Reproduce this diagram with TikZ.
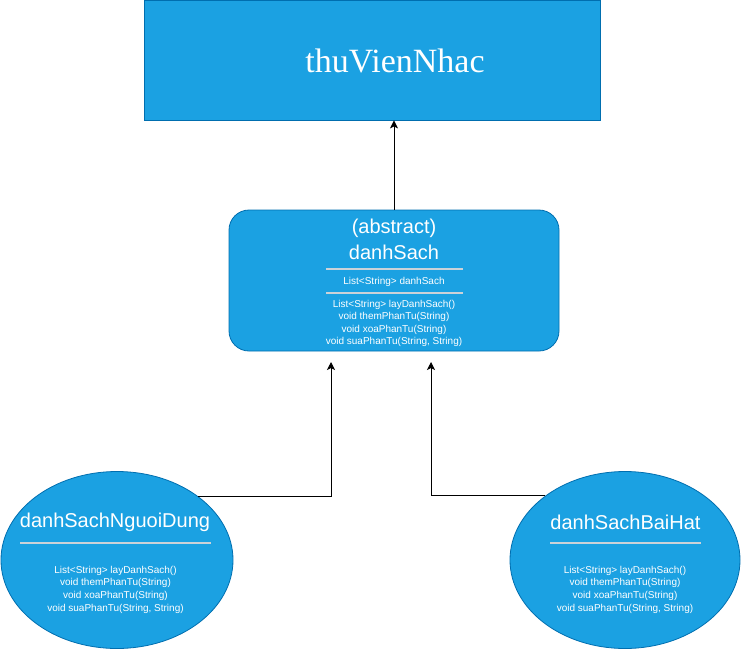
\documentclass[tikz,border=0pt]{standalone}
\usepackage{fontspec}
\setmainfont{Liberation Sans}
\newfontfamily\seriffont{Liberation Serif}
\usetikzlibrary{shapes.geometric,arrows.meta}
\definecolor{boxfill}{RGB}{27,161,226}
\definecolor{boxdraw}{RGB}{0,110,175}
\definecolor{sepgray}{RGB}{204,210,216}
\tikzset{
  bluebox/.style={draw=boxdraw,fill=boxfill,line width=0.8pt,inner sep=0pt},
  txt/.style={text=white,inner sep=0pt,align=center},
  small/.style={txt,font=\fontsize{10}{12.3}\selectfont},
  title/.style={txt,font=\fontsize{20}{26}\selectfont},
  sep/.style={draw=sepgray,line width=1.8pt},
  arr/.style={draw=black,line width=1pt,-{Stealth[length=8pt,width=8pt,inset=2pt]}}
}
\begin{document}
\begin{tikzpicture}[x=1pt,y=-1pt]
\useasboundingbox (0,0) rectangle (741,651);
% top box
\node[bluebox,rectangle,minimum width=456pt,minimum height=120pt] (top) at (372,60) {};
\node[txt,font=\seriffont\fontsize{34}{40}\selectfont] (toptxt) at (395,61) {thuVienNhac};
% middle box
\node[bluebox,rectangle,rounded corners=20pt,minimum width=330pt,minimum height=141pt] (mid) at (394,280.5) {};
\node[title] (midtitle) at (394,239) {(abstract)\\danhSach};
\draw[sep] (326,269) -- (463,269);
\node[small] (midattr) at (394,282) {List<String> danhSach};
\draw[sep] (326,293) -- (463,293);
\node[small] (midmeth) at (394,323.5) {List<String> layDanhSach()\\void themPhanTu(String)\\void xoaPhanTu(String)\\void suaPhanTu(String, String)};
% ellipses
\node[bluebox,ellipse,minimum width=232pt,minimum height=177pt] (e1) at (117,560) {};
\node[title] (e1title) at (115,522) {danhSachNguoiDung};
\draw[sep] (20,543) -- (211,543);
\node[small,font=\fontsize{10}{12.7}\selectfont] (e1meth) at (115.5,589.5) {List<String> layDanhSach()\\void themPhanTu(String)\\void xoaPhanTu(String)\\void suaPhanTu(String, String)};
\node[bluebox,ellipse,minimum width=230pt,minimum height=177pt] (e2) at (625,560) {};
\node[title] (e2title) at (625.5,522) {danhSachBaiHat};
\draw[sep] (550,543) -- (701,543);
\node[small,font=\fontsize{10}{12.7}\selectfont] (e2meth) at (625,589.5) {List<String> layDanhSach()\\void themPhanTu(String)\\void xoaPhanTu(String)\\void suaPhanTu(String, String)};
% connectors
\coordinate (c1) at (331,362);
\coordinate (c2) at (431,362);
\draw[arr] (mid.north) -- (mid.north |- top.south);
\draw[arr] (e1.38.8) -| (c1);
\draw[arr] (e2.141.2) -| (c2);
\end{tikzpicture}
\end{document}
